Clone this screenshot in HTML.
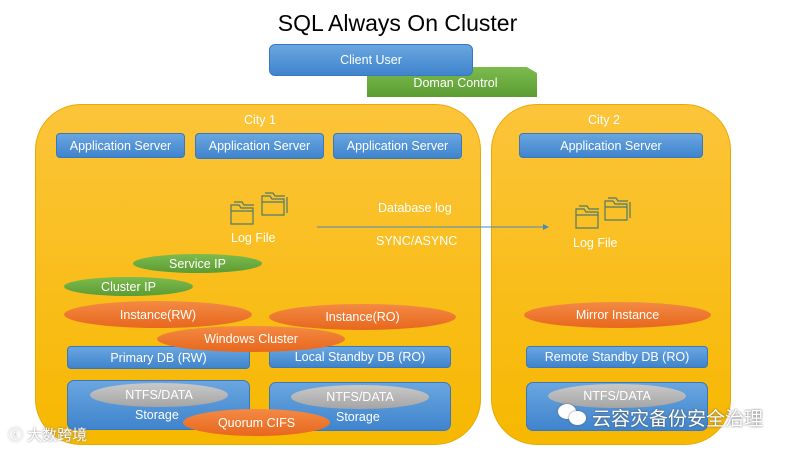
<!DOCTYPE html>
<html><head><meta charset="utf-8"><style>
*{margin:0;padding:0;box-sizing:border-box}
body{width:800px;height:450px;background:#fff;position:relative;overflow:hidden;font-family:"Liberation Sans","Noto Sans CJK SC",sans-serif}
.a{position:absolute;display:flex;align-items:center;justify-content:center;color:#fff;font-size:12.5px;white-space:nowrap}
.city{background:linear-gradient(#fcc43a,#f6b800);border:1.5px solid #e9a900;border-radius:46px}
.b{background:linear-gradient(#6aa6e0,#3f84cd);border:1px solid #3a78bb;border-radius:4px}
.e{border-radius:50%}
.o{background:linear-gradient(#f38a44,#e8671d)}
.g{background:linear-gradient(#7dbb4e,#5b9c33)}
.gr{background:linear-gradient(#c9c9c9,#a5a5a5)}
.t{position:absolute;color:#fff;font-size:12.5px;white-space:nowrap}
</style></head><body>
<div class="a" style="left:260px;top:6px;width:275px;height:34px;color:#000;font-size:23px">SQL Always On Cluster</div>
<div class="a g" style="left:367px;top:67px;width:170px;height:30px;padding-top:2px;clip-path:polygon(0 0,94% 0,100% 20%,100% 100%,0 100%)">&nbsp;&nbsp;Doman Control</div>
<div class="a b" style="left:269px;top:44px;width:204px;height:32px;border-radius:6px">Client User</div>

<div class="city" style="position:absolute;left:35px;top:104px;width:446px;height:341px"></div>
<div class="city" style="position:absolute;left:491px;top:104px;width:240px;height:341px"></div>
<div class="t" style="left:244px;top:113px">City 1</div>
<div class="t" style="left:588px;top:113px">City 2</div>

<div class="a b" style="left:56px;top:133px;width:129px;height:25px">Application Server</div>
<div class="a b" style="left:195px;top:133px;width:129px;height:26px">Application Server</div>
<div class="a b" style="left:333px;top:133px;width:129px;height:26px">Application Server</div>
<div class="a b" style="left:519px;top:133px;width:184px;height:25px">Application Server</div>

<svg style="position:absolute;left:0;top:0" width="800" height="450">
<g fill="none" stroke="#4f7a6a" stroke-width="1.2">
<path d="M231 205h8l2 3h12v16h-22z M231 211h22"/><path d="M234 202h8l2 3h10"/>
<path d="M262 196h8l2 3h12v16h-22z M262 202h22"/><path d="M265 193h8l2 3h10"/><path d="M287 197v16"/>
<path d="M576 209h8l2 3h12v16h-22z M576 215h22"/><path d="M579 206h8l2 3h10"/>
<path d="M605 201h8l2 3h12v16h-22z M605 207h22"/><path d="M608 198h8l2 3h10"/><path d="M630 202v16"/>
</g>
<line x1="317" y1="227" x2="544" y2="227" stroke="#4a8ab8" stroke-width="1"/>
<path d="M549 227l-6-3v6z" fill="#4a8ab8"/>
</svg>
<div class="t" style="left:231px;top:231px">Log File</div>
<div class="t" style="left:573px;top:236px">Log File</div>
<div class="t" style="left:378px;top:201px">Database log</div>
<div class="t" style="left:376px;top:234px">SYNC/ASYNC</div>

<div class="a e g" style="left:133px;top:254px;width:129px;height:19px">Service IP</div>
<div class="a e g" style="left:64px;top:277px;width:129px;height:19px">Cluster IP</div>

<div class="a b" style="left:67px;top:346px;width:183px;height:23px">Primary DB (RW)</div>
<div class="a b" style="left:269px;top:346px;width:182px;height:22px">Local Standby DB (RO)</div>
<div class="a b" style="left:526px;top:346px;width:182px;height:22px">Remote Standby DB (RO)</div>

<div class="a e o" style="left:64px;top:301px;width:188px;height:27px">Instance(RW)</div>
<div class="a e o" style="left:269px;top:304px;width:187px;height:26px">Instance(RO)</div>
<div class="a e o" style="left:157px;top:326px;width:188px;height:26px">Windows Cluster</div>
<div class="a e o" style="left:524px;top:302px;width:187px;height:26px">Mirror Instance</div>

<div class="b" style="position:absolute;left:67px;top:380px;width:183px;height:50px;border-radius:7px"></div>
<div class="b" style="position:absolute;left:269px;top:382px;width:182px;height:49px;border-radius:7px"></div>
<div class="b" style="position:absolute;left:526px;top:382px;width:182px;height:49px;border-radius:7px"></div>
<div class="a e gr" style="left:90px;top:383px;width:138px;height:24px">NTFS/DATA</div>
<div class="a e gr" style="left:291px;top:385px;width:138px;height:24px">NTFS/DATA</div>
<div class="a e gr" style="left:548px;top:384px;width:138px;height:24px">NTFS/DATA</div>
<div class="t" style="left:135px;top:408px">Storage</div>
<div class="t" style="left:336px;top:410px">Storage</div>
<div class="a e o" style="left:183px;top:409px;width:147px;height:27px">Quorum CIFS</div>

<div class="t" style="left:592px;top:404px;font-size:19px;color:#fff;text-shadow:0 0 2px #555">云容灾备份安全治理</div>
<div style="position:absolute;left:558px;top:404px;width:18px;height:15px;border-radius:50%;background:#fff;box-shadow:0 0 2px #666"></div>
<div style="position:absolute;left:569px;top:411px;width:17px;height:14px;border-radius:50%;background:#fff;box-shadow:0 0 2px #666"></div>
<div class="t" style="left:8px;top:424px;font-size:15px;color:#fff;text-shadow:0 0 2px #777">ⓒ 大数跨境</div>
</body></html>
